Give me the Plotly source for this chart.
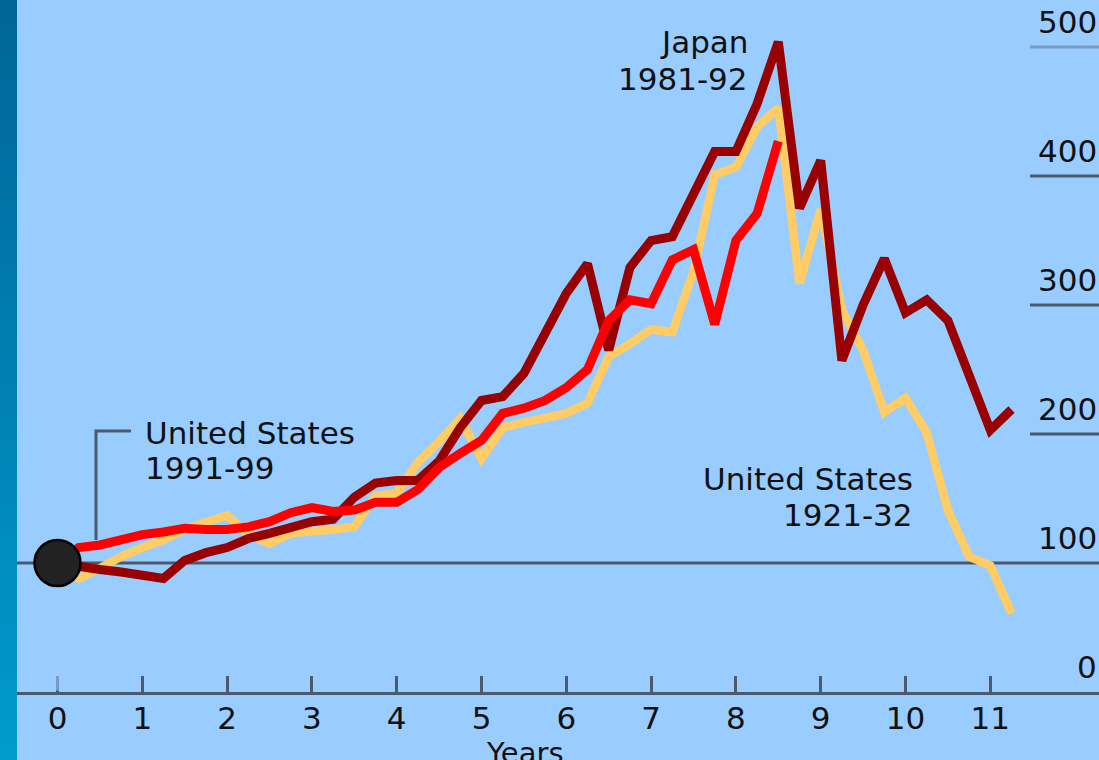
import plotly.graph_objects as go

# ---- data (index, start = 100), quarterly steps in years ----
years_long = [i * 0.25 for i in range(46)]
years_short = [i * 0.25 for i in range(35)]

japan_1981_92 = [100, 97, 95, 93, 91, 88, 102, 108, 112, 119, 123, 127, 132, 134, 151, 162,
                 164, 164, 179, 205, 226, 229, 247, 278, 309, 332, 265, 329, 350, 353, 385,
                 419, 419, 456, 504, 375, 412, 257, 300, 336, 294, 304, 288, 244, 203, 219]

us_1921_32 = [100, 88, 96, 105, 112, 118, 126, 132, 137, 122, 115, 123, 124, 126, 128, 152,
              154, 178, 194, 212, 181, 205, 209, 213, 216, 224, 260, 270, 281, 279, 326,
              401, 407, 438, 453, 317, 374, 296, 265, 217, 228, 201, 141, 105, 98, 61]

us_1991_99 = [100, 112, 114, 118, 122, 124, 127, 126, 126, 128, 132, 139, 143, 140, 141, 147,
              147, 157, 174, 185, 195, 216, 220, 226, 236, 250, 288, 304, 301, 335, 343,
              285, 350, 371, 427]

x_ticks = list(range(12))
y_ref_values = [0, 100, 200, 300, 400, 500]
y_ref_labels = ["0", "100", "200", "300", "400", "500"]

# ---- styling ----
BG = "#99ccff"
AXIS = "#4a5a6b"
TXT = "#111111"
FONT = "DejaVu Sans"

W, H = 1099, 760
ML, MB = 0, 68
PX_PER_YEAR = 84.8
X0_PX = 57.5
PX_PER_UNIT = 1.29
plot_h = H - MB

x_range = [(0 - X0_PX) / PX_PER_YEAR, (W - X0_PX) / PX_PER_YEAR]
y_range = [0, plot_h / PX_PER_UNIT]

fig = go.Figure()

fig.add_trace(go.Scatter(x=years_long, y=us_1921_32, mode="lines",
                         line=dict(color="#ffcc66", width=8.5), name="United States 1921-32"))
fig.add_trace(go.Scatter(x=years_long, y=japan_1981_92, mode="lines",
                         line=dict(color="#990000", width=9), name="Japan 1981-92"))
fig.add_trace(go.Scatter(x=years_short, y=us_1991_99, mode="lines",
                         line=dict(color="#ff0000", width=9), name="United States 1991-99"))
fig.add_trace(go.Scatter(x=[years_long[0]], y=[japan_1981_92[0]], mode="markers",
                         marker=dict(size=46, color="#222222", line=dict(color="#000000", width=2.5)),
                         name="start"))

shapes = []
# reference line at 100 (full width)
shapes.append(dict(type="line", xref="paper", yref="y", x0=0, x1=1,
                   y0=y_ref_values[1], y1=y_ref_values[1], line=dict(color=AXIS, width=3),
                   layer="below"))
# short right-side grid stubs
for v in y_ref_values[2:]:
    col = "#7a9cc2" if v == 500 else AXIS
    shapes.append(dict(type="line", xref="paper", yref="y", x0=1030 / W, x1=1,
                       y0=v, y1=v, line=dict(color=col, width=3)))
# lighter tick at year 0
shapes.append(dict(type="line", xref="x", yref="paper", x0=x_ticks[0], x1=x_ticks[0],
                   y0=1.5 / plot_h, y1=16 / plot_h, line=dict(color="#7a9cc2", width=3),
                   layer="above"))
# leader line for United States 1991-99 label
lead_x = 0.454
shapes.append(dict(type="path", xref="x", yref="y",
                   path=f"M {lead_x},117.8 L {lead_x},202.3 L 0.867,202.3",
                   line=dict(color=AXIS, width=3)))
# left gradient strip
n = 38
c0 = (0x00, 0x66, 0x99)
c1 = (0x00, 0x9a, 0xcc)
for i in range(n):
    t = i / (n - 1)
    c = tuple(round(a + (b - a) * t) for a, b in zip(c0, c1))
    ytop = 1 - (i * H / n) / plot_h
    ybot = 1 - ((i + 1) * H / n) / plot_h
    shapes.append(dict(type="rect", xref="paper", yref="paper", x0=0, x1=17 / W,
                       y0=ybot, y1=ytop + 0.002, line=dict(width=0),
                       fillcolor="rgb(%d,%d,%d)" % c, layer="above"))

ann = []
lab_font = dict(family=FONT, size=31, color=TXT)
ann += [
    dict(x=1.01, y=201.0, text="United States", xanchor="left", yanchor="middle"),
    dict(x=1.01, y=173.4, text="1991-99", xanchor="left", yanchor="middle"),
    dict(x=8.166, y=503.5, text="Japan", xanchor="right", yanchor="middle"),
    dict(x=8.166, y=475.5, text="1981-92", xanchor="right", yanchor="middle"),
    dict(x=10.11, y=165.5, text="United States", xanchor="right", yanchor="middle"),
    dict(x=10.11, y=137.4, text="1921-32", xanchor="right", yanchor="middle"),
]
for a in ann:
    a.update(xref="x", yref="y", showarrow=False, font=lab_font)
for v, lab in zip(y_ref_values, y_ref_labels):
    ann.append(dict(xref="paper", yref="y", x=1, y=v, text=lab, xanchor="right",
                    yanchor="bottom", yshift=5, xshift=0, showarrow=False,
                    font=dict(family=FONT, size=31, color=TXT)))
ann.append(dict(xref="x", yref="paper", x=5.513, y=-(734 - plot_h) / plot_h, text="Years",
                xanchor="center", yanchor="top", showarrow=False,
                font=dict(family=FONT, size=29, color=TXT)))

fig.update_layout(
    width=W, height=H,
    margin=dict(l=ML, r=0, t=0, b=MB, pad=0),
    paper_bgcolor=BG, plot_bgcolor=BG,
    showlegend=False,
    shapes=shapes, annotations=ann,
    xaxis=dict(range=x_range, tickvals=x_ticks, ticktext=[str(t) for t in x_ticks],
               ticks="inside", ticklen=16, tickwidth=3, tickcolor=AXIS,
               showline=True, linecolor=AXIS, linewidth=3, showgrid=False, zeroline=False,
               ticklabelstandoff=-3,
               tickfont=dict(family=FONT, size=31, color=TXT), fixedrange=True),
    yaxis=dict(range=y_range, showgrid=False, zeroline=False, showticklabels=False,
               showline=False, ticks="", fixedrange=True),
)

fig.write_html("out.html")
